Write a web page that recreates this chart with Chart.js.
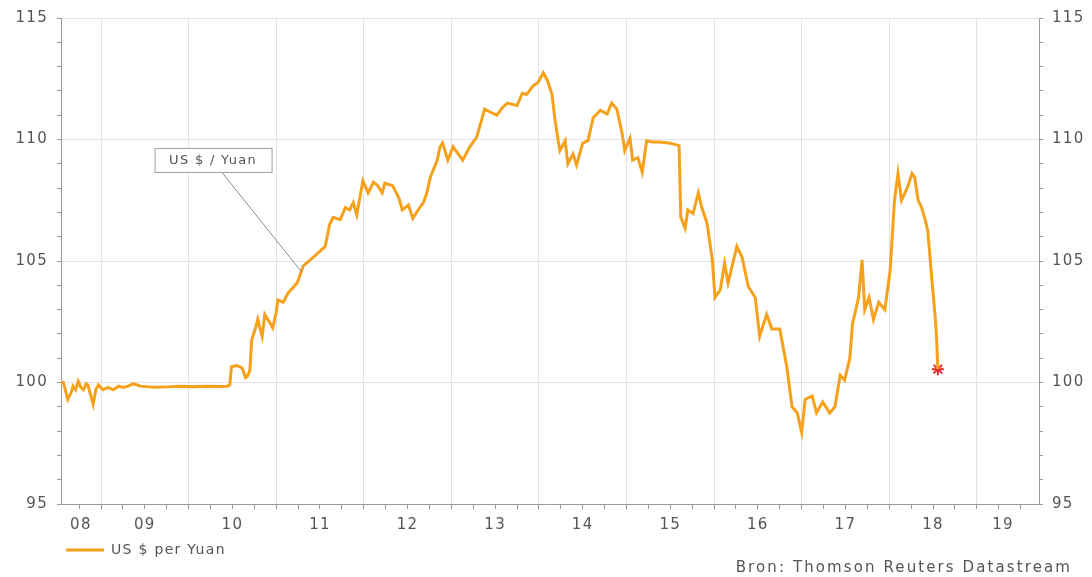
<!DOCTYPE html>
<html>
<head>
<meta charset="utf-8">
<script src="https://cdn.jsdelivr.net/npm/chart.js@4.4.1/dist/chart.umd.min.js"></script>
<style>
    html, body { margin: 0; padding: 0; background: #fff; }
    #wrap { width: 1092px; height: 577px; position: relative; }
</style>
</head>
<body>
<div id="wrap"><canvas id="grafiekYuan"></canvas></div>
<script>
// Koers US $ per Yuan (index), tijd als decimaal jaar
const jaren = [
    2008.54, 2008.57, 2008.62, 2008.66, 2008.68, 2008.71, 2008.74, 2008.77, 2008.80, 2008.83,
    2008.85, 2008.88, 2008.91, 2008.94, 2008.97, 2009.02, 2009.08, 2009.14, 2009.20, 2009.25,
    2009.31, 2009.37, 2009.45, 2009.60, 2009.75, 2009.90, 2010.05, 2010.20, 2010.35, 2010.44,
    2010.47, 2010.49, 2010.55, 2010.61, 2010.65, 2010.67, 2010.70, 2010.72, 2010.76, 2010.79,
    2010.81, 2010.84, 2010.87, 2010.92, 2010.96, 2011.00, 2011.02, 2011.08, 2011.14, 2011.19,
    2011.24, 2011.31, 2011.39, 2011.47, 2011.56, 2011.61, 2011.65, 2011.73, 2011.79, 2011.84,
    2011.88, 2011.92, 2011.99, 2012.05, 2012.11, 2012.16, 2012.21, 2012.24, 2012.33, 2012.40,
    2012.44, 2012.51, 2012.56, 2012.62, 2012.68, 2012.72, 2012.76, 2012.84, 2012.87, 2012.90,
    2012.96, 2013.02, 2013.08, 2013.13, 2013.21, 2013.29, 2013.38, 2013.46, 2013.52, 2013.58,
    2013.64, 2013.75, 2013.81, 2013.86, 2013.93, 2013.99, 2014.05, 2014.10, 2014.15, 2014.18,
    2014.22, 2014.24, 2014.30, 2014.33, 2014.39, 2014.43, 2014.50, 2014.56, 2014.62, 2014.70,
    2014.78, 2014.83, 2014.89, 2014.95, 2014.98, 2015.04, 2015.07, 2015.13, 2015.18, 2015.23,
    2015.30, 2015.38, 2015.50, 2015.60, 2015.62, 2015.67, 2015.70, 2015.76, 2015.82, 2015.86,
    2015.92, 2015.98, 2016.01, 2016.07, 2016.12, 2016.16, 2016.26, 2016.32, 2016.39, 2016.47,
    2016.52, 2016.60, 2016.66, 2016.75, 2016.83, 2016.89, 2016.95, 2017.00, 2017.04, 2017.12,
    2017.17, 2017.24, 2017.32, 2017.38, 2017.44, 2017.49, 2017.55, 2017.58, 2017.65, 2017.69,
    2017.72, 2017.77, 2017.82, 2017.88, 2017.95, 2018.01, 2018.06, 2018.10, 2018.14, 2018.18,
    2018.21, 2018.26, 2018.29, 2018.33, 2018.37, 2018.41, 2018.44, 2018.49, 2018.52, 2018.54,
    2018.555
];
const koers = [
    100.0, 100.0, 99.3, 99.6, 99.85, 99.7, 100.05, 99.8, 99.7, 99.95,
    99.9, 99.5, 99.1, 99.7, 99.9, 99.7, 99.8, 99.7, 99.85, 99.8,
    99.85, 99.95, 99.85, 99.8, 99.82, 99.85, 99.83, 99.85, 99.84, 99.85,
    99.9, 100.65, 100.7, 100.6, 100.2, 100.25, 100.5, 101.75, 102.2, 102.6,
    102.3, 101.9, 102.8, 102.5, 102.25, 102.9, 103.4, 103.3, 103.7, 103.9,
    104.1, 104.8, 105.05, 105.3, 105.6, 106.5, 106.8, 106.7, 107.2, 107.1,
    107.4, 106.9, 108.3, 107.8, 108.25, 108.1, 107.8, 108.2, 108.1, 107.6,
    107.1, 107.3, 106.75, 107.1, 107.4, 107.8, 108.45, 109.15, 109.7, 109.85,
    109.15, 109.7, 109.4, 109.15, 109.7, 110.1, 111.25, 111.1, 111.0, 111.3,
    111.5, 111.4, 111.9, 111.85, 112.2, 112.35, 112.75, 112.4, 111.85, 110.9,
    109.95, 109.55, 109.95, 109.0, 109.4, 108.95, 109.85, 109.95, 110.9, 111.2,
    111.05, 111.5, 111.25, 110.25, 109.55, 110.05, 109.15, 109.25, 108.65, 109.95,
    109.9, 109.9, 109.85, 109.75, 106.8, 106.35, 107.1, 106.95, 107.8, 107.2,
    106.55, 105.05, 103.5, 103.8, 104.9, 104.1, 105.6, 105.15, 103.95, 103.5,
    101.9, 102.8, 102.2, 102.2, 100.65, 99.0, 98.75, 97.95, 99.3, 99.45,
    98.75, 99.2, 98.75, 99.0, 100.3, 100.1, 101.0, 102.4, 103.5, 105.05,
    103.0, 103.5, 102.6, 103.3, 103.0, 104.6, 107.5, 108.6, 107.5, 107.8,
    108.05, 108.6, 108.45, 107.5, 107.2, 106.7, 106.25, 104.1, 102.9, 101.9,
    100.55
];

// Laatste waarneming (rode markering)
const laatsteJaar = [2018.555];
const laatsteKoers = [100.55];

// As-labels
const jaarLabels = ['08', '09', '10', '11', '12', '13', '14', '15', '16', '17', '18', '19'];
const labelPosities = [2008.77, 2009.5, 2010.5, 2011.5, 2012.5, 2013.5, 2014.5, 2015.5, 2016.5, 2017.5, 2018.5, 2019.3];
const yMin = 95;
const yMax = 115;
const xMin = 2008.543;
const xMax = 2019.71;

const oranje = '#f5a11c';
const grijsTekst = '#555555';
const grijsAs = '#9a9a9a';
const grijsRaster = '#e3e3e3';

Chart.defaults.font.family = '"DejaVu Sans", Arial, sans-serif';
Chart.defaults.color = grijsTekst;

// Letterafstand, de tekst in het origineel is breed
const letterAfstand = {
    id: 'letterAfstand',
    beforeDraw(chart) {
        chart.ctx.letterSpacing = '1.3px';
    }
};

// Label "US $ / Yuan" met verbindingslijn
const annotatie = {
    id: 'annotatie',
    afterDatasetsDraw(chart) {
        const ctx = chart.ctx;
        const px = chart.scales.x.getPixelForValue(2011.29);
        const py = chart.scales.y.getPixelForValue(104.55);
        const bx = px - 147, by = py - 124, bw = 117, bh = 24;
        ctx.save();
        ctx.strokeStyle = '#8c8c8c';
        ctx.lineWidth = 1;
        ctx.beginPath();
        ctx.moveTo(bx + 67, by + bh);
        ctx.lineTo(px, py);
        ctx.stroke();
        ctx.fillStyle = '#fff';
        ctx.fillRect(bx, by, bw, bh);
        ctx.strokeStyle = '#a0a0a0';
        ctx.strokeRect(bx + 0.5, by + 0.5, bw, bh);
        ctx.fillStyle = grijsTekst;
        ctx.font = '13px "DejaVu Sans", Arial, sans-serif';
        ctx.textAlign = 'center';
        ctx.textBaseline = 'middle';
        ctx.fillText('US $ / Yuan', bx + bw / 2, by + bh / 2 + 1);
        ctx.restore();
    }
};

// Bronvermelding rechtsonder
const bron = {
    id: 'bron',
    afterDraw(chart) {
        const ctx = chart.ctx;
        ctx.save();
        ctx.letterSpacing = '2.1px';
        ctx.fillStyle = grijsTekst;
        ctx.font = '15px "DejaVu Sans", Arial, sans-serif';
        ctx.textAlign = 'right';
        ctx.textBaseline = 'middle';
        ctx.fillText('Bron: Thomson Reuters Datastream', 1072, 568);
        ctx.restore();
    }
};

function kwartalen() {
    const t = [];
    for (let q = Math.ceil(xMin * 4) / 4; q <= xMax; q += 0.25) t.push({ value: q });
    return t;
}

function eenheden() {
    const t = [];
    for (let v = yMin; v <= yMax; v++) t.push({ value: v });
    return t;
}

const ctx = document.getElementById('grafiekYuan').getContext('2d');
const grafiek = new Chart(ctx, {
    type: 'line',
    data: {
        datasets: [{
            label: 'US $ per Yuan',
            data: jaren.map((j, i) => ({ x: j, y: koers[i] })),
            borderColor: oranje,
            backgroundColor: oranje,
            borderWidth: 3,
            pointRadius: 0,
            pointStyle: 'line',
            tension: 0,
            fill: false
        }, {
            label: 'laatste',
            data: laatsteJaar.map((j, i) => ({ x: j, y: laatsteKoers[i] })),
            showLine: false,
            pointStyle: 'star',
            pointRadius: 6,
            borderColor: '#e8262c',
            backgroundColor: '#e8262c',
            borderWidth: 2
        }]
    },
    options: {
        responsive: true,
        maintainAspectRatio: false,
        animation: false,
        layout: { padding: { top: 17, left: 0, right: 0, bottom: 10 } },
        plugins: {
            legend: {
                position: 'bottom',
                align: 'start',
                fullSize: false,
                labels: {
                    usePointStyle: true,
                    pointStyleWidth: 38,
                    boxHeight: 14,
                    padding: 5,
                    color: grijsTekst,
                    font: { size: 14 },
                    filter: item => item.datasetIndex === 0
                }
            },
            tooltip: { enabled: false }
        },
        scales: {
            x: {
                type: 'linear',
                position: 'bottom',
                weight: 0,
                min: xMin,
                max: xMax,
                afterBuildTicks: s => { s.ticks = kwartalen(); },
                grid: {
                    color: c => (c.tick && Number.isInteger(c.tick.value)) ? grijsRaster : 'rgba(0,0,0,0)',
                    tickColor: grijsAs,
                    tickLength: 5
                },
                border: { color: grijsAs },
                ticks: { display: false },
                afterFit: s => { s.height = 6; }
            },
            xLabels: {
                type: 'linear',
                position: 'bottom',
                weight: 1,
                min: xMin,
                max: xMax,
                afterBuildTicks: s => { s.ticks = labelPosities.map(v => ({ value: v })); },
                grid: { display: false, drawTicks: false },
                border: { display: false },
                ticks: {
                    autoSkip: false,
                    maxRotation: 0,
                    padding: 6,
                    color: grijsTekst,
                    font: { size: 15 },
                    callback: (v, i) => jaarLabels[i]
                },
                afterFit: s => { s.height = 28; }
            },
            y: {
                position: 'left',
                min: yMin,
                max: yMax,
                afterBuildTicks: s => { s.ticks = eenheden(); },
                grid: {
                    color: c => (c.tick && c.tick.value % 5 === 0) ? grijsRaster : 'rgba(0,0,0,0)',
                    tickColor: grijsAs,
                    tickLength: 4
                },
                border: { color: grijsAs },
                ticks: {
                    autoSkip: false,
                    padding: 9,
                    color: grijsTekst,
                    font: { size: 15 },
                    callback: v => v % 5 === 0 ? String(v) : ''
                },
                afterFit: s => { s.width = 61; }
            },
            y2: {
                position: 'right',
                min: yMin,
                max: yMax,
                afterBuildTicks: s => { s.ticks = eenheden(); },
                grid: {
                    drawOnChartArea: false,
                    tickColor: grijsAs,
                    tickLength: 4
                },
                border: { color: grijsAs },
                ticks: {
                    autoSkip: false,
                    padding: 9,
                    color: grijsTekst,
                    font: { size: 15 },
                    callback: v => v % 5 === 0 ? String(v) : ''
                },
                afterFit: s => { s.width = 53; }
            }
        }
    },
    plugins: [letterAfstand, annotatie, bron]
});
</script>
</body>
</html>
